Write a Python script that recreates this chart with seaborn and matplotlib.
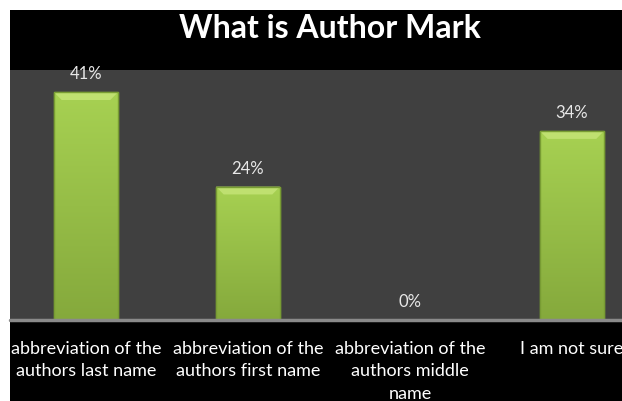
import numpy as np
import pandas as pd
import seaborn as sns
import matplotlib.pyplot as plt
from matplotlib.patches import Rectangle, Polygon

categories = ['abbreviation of the\nauthors last name',
              'abbreviation of the\nauthors first name',
              'abbreviation of the\nauthors middle\nname',
              'I am not sure']
values = [41, 24, 0, 34]
labels = ['41%', '24%', '0%', '34%']

df = pd.DataFrame({'answer': categories, 'pct': values})

sns.set_style('dark')
plt.rcParams['font.family'] = ['Lato', 'DejaVu Sans']

fig = plt.figure(figsize=(6.22, 4.01), dpi=100, facecolor='white')
# black backdrop, offset by a thin white margin
fig.patches.append(Rectangle((10 / 622, 0), 1, 391 / 401, transform=fig.transFigure,
                             facecolor='black', edgecolor='none', zorder=-5))

ax = fig.add_axes([10 / 622, 81 / 401, 612 / 622, 250 / 401])
ax.set_facecolor('#404040')

sns.barplot(data=df, x='answer', y='pct', color='#9ac849', width=0.395,
            saturation=1, edgecolor='#789c33', linewidth=1, ax=ax)

# vertical gradient on the bars, light at the top
grad = np.linspace(1, 0, 256).reshape(-1, 1)
cmap = plt.matplotlib.colors.LinearSegmentedColormap.from_list('g', ['#85a93c', '#a7d152'])
for p in list(ax.patches):
    if p.get_height() <= 0:
        continue
    x0, w, h = p.get_x(), p.get_width(), p.get_height()
    z = p.get_zorder()
    im = ax.imshow(grad, cmap=cmap, aspect='auto', extent=(x0, x0 + w, 0, h), zorder=z + 0.1)
    im.set_clip_path(p)
    # bevel on top edge
    bev = 1.4
    dx = w * 0.12
    ax.add_patch(Polygon([(x0, h), (x0 + w, h), (x0 + w - dx, h - bev), (x0 + dx, h - bev)],
                         closed=True, facecolor='#bfe070', edgecolor='none', zorder=z + 0.2))
    ax.add_patch(Rectangle((x0, 0), w, h, facecolor='none', edgecolor='#789c33', lw=1,
                           zorder=z + 0.3))

for i, (v, lab) in enumerate(zip(values, labels)):
    ax.text(i, v + 3.2, lab, ha='center', va='center', color='#e8e8e8', fontsize=12)

ax.set_xlim(-0.469, 3.309)
ax.set_ylim(0, 45)
ax.set_yticks([])
ax.set_xlabel('')
ax.set_ylabel('')
ax.grid(False)
for s in ax.spines.values():
    s.set_visible(False)
ax.axhline(0, color='#8a8a8a', lw=2.5, clip_on=False, zorder=5)
ax.tick_params(axis='x', length=0, pad=15, colors='white', labelsize=13)
for t in ax.get_xticklabels():
    t.set_linespacing(1.5)
    t.set_va('top')

fig.text(330 / 622, 1 - 28 / 401, 'What is Author Mark', ha='center', va='center',
         color='white', fontsize=23, fontweight='bold')

fig.savefig('out.png', dpi=100, facecolor='white')
